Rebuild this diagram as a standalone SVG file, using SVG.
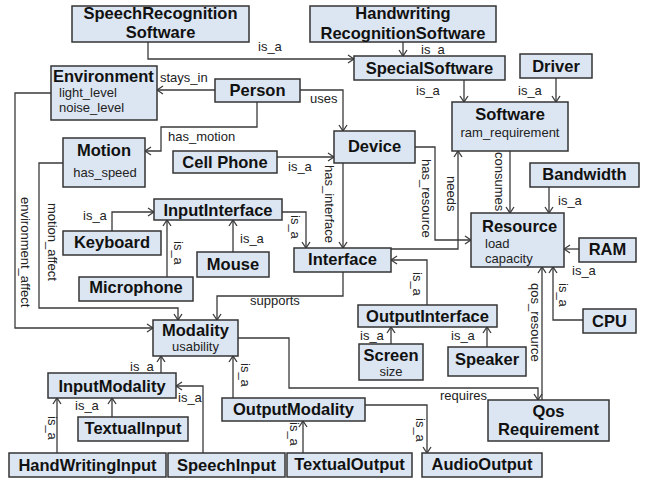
<svg xmlns="http://www.w3.org/2000/svg" width="645" height="480" viewBox="0 0 645 480">
<defs>
<style>
.n rect{fill:#dce6f2;stroke:#353535;stroke-width:1.5}
.t{font-family:"Liberation Sans",Arial,sans-serif;font-weight:bold;font-size:16.5px;fill:#111;text-anchor:middle}
.tl{text-anchor:start}
.at{font-family:"Liberation Sans",Arial,sans-serif;font-size:13px;fill:#222}
.am{text-anchor:middle}
.lb{font-family:"Liberation Sans",Arial,sans-serif;font-size:13px;fill:#222}
.c path{fill:none;stroke:#3a3a3a;stroke-width:1.3;marker-end:url(#ar)}
</style>
<marker id="ar" markerUnits="userSpaceOnUse" markerWidth="10" markerHeight="10" viewBox="0 0 10 10" refX="9" refY="5" orient="auto">
<path d="M3,1 L9,5 L3,9" fill="none" stroke="#3a3a3a" stroke-width="1.3"/>
</marker>
</defs>
<rect width="645" height="480" fill="#fff"/>

<g id="connectors" class="c">
<path d="M148,42 V59 H354"/>
<path d="M403,42 V56"/>
<path d="M464,80 V102"/>
<path d="M556,78 V102"/>
<path d="M215,90 H157"/>
<path d="M257,102 V127 H161 V151 H145"/>
<path d="M300,90 H343 V131"/>
<path d="M277,157 H334"/>
<path d="M343,163 V248"/>
<path d="M415,147 H435 V240 H471"/>
<path d="M391,249 H458 V151"/>
<path d="M510,151 V213"/>
<path d="M549,187 V213"/>
<path d="M579,249 H564"/>
<path d="M583,320 H553 V267"/>
<path d="M542,400 V267"/>
<path d="M238,338 H289 V388 H538 V400"/>
<path d="M51,93 H15 V328 H153"/>
<path d="M63,163 H39 V308 H178 V320"/>
<path d="M343,272 V296 H217 V320"/>
<path d="M112,231 V212 H154"/>
<path d="M167,277 V220"/>
<path d="M233,252 V220"/>
<path d="M282,212 H306 V248"/>
<path d="M427,305 V260 H391"/>
<path d="M391,344 V327"/>
<path d="M487,347 V327"/>
<path d="M161,373 V356"/>
<path d="M112,417 V398"/>
<path d="M57,453 V398"/>
<path d="M203,453 V386 H176"/>
<path d="M233,398 V356"/>
<path d="M303,453 V421"/>
<path d="M365,405 H427 V453"/>
</g>

<g id="edge-labels" class="lb">
<text x="258" y="51">is_a</text>
<text x="421" y="54">is_a</text>
<text x="416" y="95">is_a</text>
<text x="518" y="95">is_a</text>
<text x="160" y="82">stays_in</text>
<text x="168" y="141">has_motion</text>
<text x="310" y="103">uses</text>
<text x="288" y="171">is_a</text>
<text x="83" y="220">is_a</text>
<text x="240" y="243">is_a</text>
<text x="250" y="305">supports</text>
<text x="558" y="205">is_a</text>
<text x="572" y="275">is_a</text>
<text x="360" y="340">is_a</text>
<text x="451" y="340">is_a</text>
<text x="440" y="400">requires</text>
<text x="130" y="371">is_a</text>
<text x="75" y="410">is_a</text>
<text x="178" y="402">is_a</text>
<text transform="translate(325,165) rotate(90)">has_interface</text>
<text transform="translate(422,159) rotate(90)">has_resource</text>
<text transform="translate(447,176) rotate(90)">needs</text>
<text transform="translate(495,152) rotate(90)">consumes</text>
<text transform="translate(559,283) rotate(90)">is_a</text>
<text transform="translate(531,283) rotate(90)">qos_resource</text>
<text transform="translate(21,197) rotate(90)">environment_affect</text>
<text transform="translate(48,203) rotate(90)">motion_affect</text>
<text transform="translate(174,241) rotate(90)">is_a</text>
<text transform="translate(291,215) rotate(90)">is_a</text>
<text transform="translate(413,272) rotate(90)">is_a</text>
<text transform="translate(48,416) rotate(90)">is_a</text>
<text transform="translate(241,363) rotate(90)">is_a</text>
<text transform="translate(290,422) rotate(90)">is_a</text>
<text transform="translate(416,418) rotate(90)">is_a</text>
</g>

<g id="SpeechRecognitionSoftware" class="n"><rect x="72" y="6" width="177" height="36"/><text class="t" x="160.5" y="19">SpeechRecognition</text><text class="t" x="160.5" y="38">Software</text></g>
<g id="HandwritingRecognitionSoftware" class="n"><rect x="310" y="6" width="186" height="36"/><text class="t" x="403" y="19">Handwriting</text><text class="t" x="403" y="39">RecognitionSoftware</text></g>
<g id="SpecialSoftware" class="n"><rect x="354" y="56" width="151" height="24"/><text class="t" x="429.5" y="74">SpecialSoftware</text></g>
<g id="Driver" class="n"><rect x="520" y="54" width="72" height="24"/><text class="t" x="556" y="72">Driver</text></g>
<g id="Software" class="n"><rect x="452" y="102" width="116" height="49"/><text class="t" x="510" y="120">Software</text><text class="at am" x="510" y="137">ram_requirement</text></g>
<g id="Environment" class="n"><rect x="51" y="66" width="106" height="54"/><text class="t tl" x="53" y="82">Environment</text><text class="at" x="59" y="97">light_level</text><text class="at" x="59" y="112">noise_level</text></g>
<g id="Person" class="n"><rect x="215" y="79" width="85" height="23"/><text class="t" x="257.5" y="96">Person</text></g>
<g id="Motion" class="n"><rect x="63" y="138" width="82" height="49"/><text class="t" x="104" y="156">Motion</text><text class="at am" x="105" y="177">has_speed</text></g>
<g id="CellPhone" class="n"><rect x="173" y="151" width="104" height="22"/><text class="t" x="225" y="168">Cell Phone</text></g>
<g id="Device" class="n"><rect x="334" y="131" width="81" height="32"/><text class="t" x="374.5" y="152">Device</text></g>
<g id="InputInterface" class="n"><rect x="154" y="199" width="128" height="21"/><text class="t" x="218" y="216">InputInterface</text></g>
<g id="Keyboard" class="n"><rect x="63" y="231" width="98" height="24"/><text class="t" x="112" y="248">Keyboard</text></g>
<g id="Microphone" class="n"><rect x="79" y="277" width="114" height="24"/><text class="t" x="136" y="293">Microphone</text></g>
<g id="Mouse" class="n"><rect x="197" y="252" width="72" height="25"/><text class="t" x="233" y="270">Mouse</text></g>
<g id="Interface" class="n"><rect x="294" y="248" width="97" height="24"/><text class="t" x="342.5" y="265">Interface</text></g>
<g id="Resource" class="n"><rect x="471" y="213" width="93" height="54"/><text class="t tl" x="482" y="232">Resource</text><text class="at" x="485" y="248">load</text><text class="at" x="485" y="262.5">capacity</text></g>
<g id="Bandwidth" class="n"><rect x="530" y="163" width="109" height="24"/><text class="t" x="584.5" y="180">Bandwidth</text></g>
<g id="RAM" class="n"><rect x="579" y="238" width="57" height="24"/><text class="t" x="607.5" y="255">RAM</text></g>
<g id="CPU" class="n"><rect x="583" y="309" width="53" height="24"/><text class="t" x="609.5" y="327">CPU</text></g>
<g id="OutputInterface" class="n"><rect x="358" y="305" width="139" height="22"/><text class="t" x="427.5" y="322">OutputInterface</text></g>
<g id="Screen" class="n"><rect x="359" y="344" width="64" height="36"/><text class="t" x="391" y="361">Screen</text><text class="at am" x="391" y="376">size</text></g>
<g id="Speaker" class="n"><rect x="448" y="347" width="78" height="29"/><text class="t" x="487" y="365">Speaker</text></g>
<g id="Modality" class="n"><rect x="153" y="320" width="85" height="36"/><text class="t" x="195.5" y="336">Modality</text><text class="at am" x="195.5" y="350.5">usability</text></g>
<g id="InputModality" class="n"><rect x="48" y="373" width="128" height="25"/><text class="t" x="112" y="392">InputModality</text></g>
<g id="TextualInput" class="n"><rect x="78" y="417" width="110" height="24"/><text class="t" x="133" y="434">TextualInput</text></g>
<g id="HandWritingInput" class="n"><rect x="9" y="453" width="157" height="24"/><text class="t" x="87.5" y="471">HandWritingInput</text></g>
<g id="SpeechInput" class="n"><rect x="168" y="453" width="117" height="24"/><text class="t" x="226.5" y="471">SpeechInput</text></g>
<g id="OutputModality" class="n"><rect x="222" y="398" width="143" height="23"/><text class="t" x="293.5" y="415">OutputModality</text></g>
<g id="TextualOutput" class="n"><rect x="287" y="453" width="125" height="24"/><text class="t" x="349.5" y="470">TextualOutput</text></g>
<g id="AudioOutput" class="n"><rect x="422" y="453" width="120" height="24"/><text class="t" x="482" y="470">AudioOutput</text></g>
<g id="QosRequirement" class="n"><rect x="488" y="400" width="121" height="41"/><text class="t" x="548.5" y="417">Qos</text><text class="t" x="548.5" y="435">Requirement</text></g>
</svg>
